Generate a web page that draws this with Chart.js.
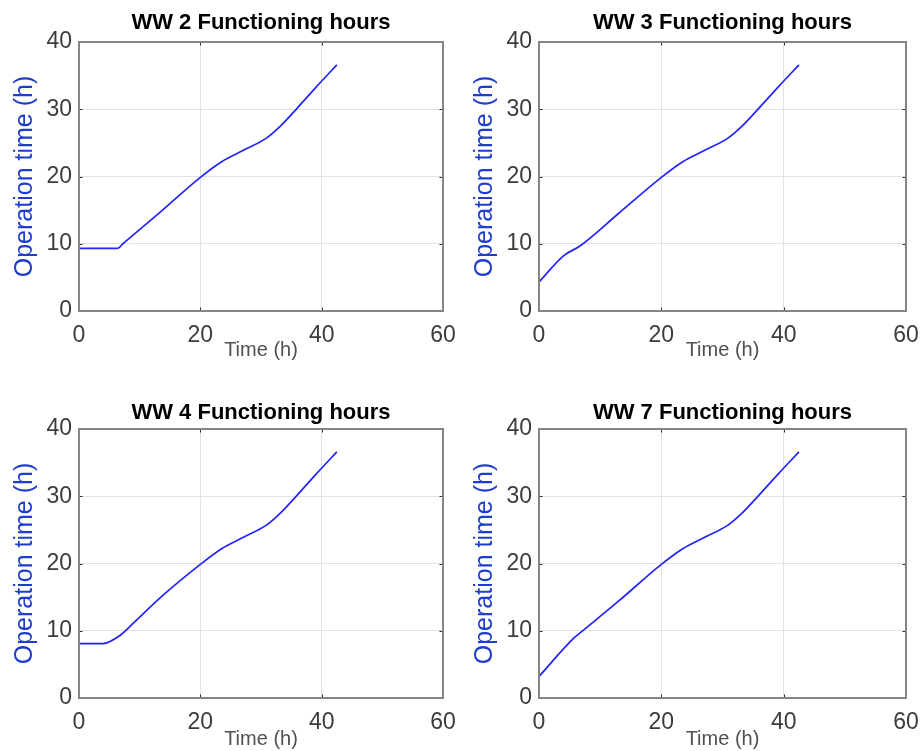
<!DOCTYPE html>
<html>
<head>
<meta charset="utf-8">
<script src="https://cdn.jsdelivr.net/npm/chart.js@4/dist/chart.umd.min.js"></script>
<style>
  html, body { margin:0; padding:0; background:#fff; width:921px; height:751px; overflow:hidden; }
  .panel { position:absolute; }
</style>
</head>
<body>
<div class="panel" style="left:0px;top:0px;"><canvas id="c1" width="460" height="375"></canvas></div>
<div class="panel" style="left:460px;top:0px;"><canvas id="c2" width="461" height="375"></canvas></div>
<div class="panel" style="left:0px;top:387px;"><canvas id="c3" width="460" height="375"></canvas></div>
<div class="panel" style="left:460px;top:387px;"><canvas id="c4" width="461" height="375"></canvas></div>
<script>
// ---- data ----
const titles = ["WW 2 Functioning hours", "WW 3 Functioning hours", "WW 4 Functioning hours", "WW 7 Functioning hours"];
const xAxisLabel = "Time (h)";
const yAxisLabel = "Operation time (h)";
const xTicks = [0, 20, 40, 60];
const yTicks = [0, 10, 20, 30, 40];

const ww2Time = [0, 6.3, 7.3, 13, 19.9, 23.5, 27.1, 30.9, 33.1, 35.9, 39.2, 42.5];
const ww2Oper = [9.3, 9.3, 10.05, 14.4, 19.8, 22.2, 23.9, 25.7, 27.4, 30.1, 33.4, 36.6];

const ww3Time = [0, 4.0, 6.75, 13, 19.9, 23.5, 27.1, 30.9, 33.1, 35.9, 39.2, 42.5];
const ww3Oper = [4.3, 8.2, 9.7, 14.5, 19.8, 22.2, 23.9, 25.7, 27.4, 30.1, 33.4, 36.6];

const ww4Time = [0, 4.0, 6.75, 8.9, 14, 19.9, 23.5, 27.1, 30.9, 33.1, 35.9, 39.2, 42.5];
const ww4Oper = [8.1, 8.1, 9.3, 11.1, 15.4, 19.8, 22.2, 23.9, 25.7, 27.4, 30.1, 33.4, 36.6];

const ww7Time = [0, 5.8, 6.8, 13, 19.9, 23.5, 27.1, 30.9, 33.1, 35.9, 39.2, 42.5];
const ww7Oper = [3.2, 9.0, 9.75, 14.4, 19.8, 22.2, 23.9, 25.7, 27.4, 30.1, 33.4, 36.6];

const seriesTime = [ww2Time, ww3Time, ww4Time, ww7Time];
const seriesOper = [ww2Oper, ww3Oper, ww4Oper, ww7Oper];

// ---- layout per panel ----
const panels = [
  { id: "c1", right: 17, titlePad: { top: 10, bottom: 5.6 }, xTitlePad: 13 },
  { id: "c2", right: 15, titlePad: { top: 10, bottom: 5.6 }, xTitlePad: 13 },
  { id: "c3", right: 17, titlePad: { top: 13, bottom: 2.6 }, xTitlePad: 11 },
  { id: "c4", right: 15, titlePad: { top: 13, bottom: 2.6 }, xTitlePad: 11 }
];

const FONT = "'Liberation Sans', Arial, Helvetica, sans-serif";

const boxPlugin = {
  id: 'matlabBox',
  afterDatasetsDraw(chart) {
    const { ctx, chartArea: a, scales } = chart;
    ctx.save();
    ctx.strokeStyle = '#2a2a2a';
    ctx.lineWidth = 1;
    const tl = 3.5;
    xTicks.forEach(v => {
      const px = Math.round(scales.x.getPixelForValue(v)) + 0.5;
      ctx.beginPath();
      ctx.moveTo(px, a.bottom); ctx.lineTo(px, a.bottom - tl);
      ctx.moveTo(px, a.top); ctx.lineTo(px, a.top + tl);
      ctx.stroke();
    });
    yTicks.forEach(v => {
      const py = Math.round(scales.y.getPixelForValue(v)) + 0.5;
      ctx.beginPath();
      ctx.moveTo(a.left, py); ctx.lineTo(a.left + tl, py);
      ctx.moveTo(a.right, py); ctx.lineTo(a.right - tl, py);
      ctx.stroke();
    });
    ctx.strokeStyle = '#858585';
    ctx.lineWidth = 2;
    ctx.strokeRect(a.left, a.top, a.right - a.left, a.bottom - a.top);
    ctx.restore();
  }
};

panels.forEach((p, i) => {
  const pts = seriesTime[i].map((t, k) => ({ x: t, y: seriesOper[i][k] }));
  new Chart(document.getElementById(p.id), {
    type: 'line',
    data: {
      datasets: [{
        data: pts,
        borderColor: 'rgb(35,35,255)',
        borderWidth: 1.7,
        pointRadius: 0,
        cubicInterpolationMode: 'monotone',
        fill: false
      }]
    },
    options: {
      responsive: false,
      animation: false,
      layout: { padding: { left: 0, right: p.right, top: 0, bottom: 0 } },
      plugins: {
        legend: { display: false },
        tooltip: { enabled: false },
        title: {
          display: true,
          text: titles[i],
          fullSize: false,
          color: '#000',
          font: { family: FONT, size: 22, weight: 'bold', lineHeight: 1.2 },
          padding: p.titlePad
        }
      },
      scales: {
        x: {
          type: 'linear',
          min: 0, max: 60,
          afterBuildTicks: s => { s.ticks = xTicks.map(v => ({ value: v })); },
          afterFit: s => { s.height = 64; s.paddingLeft = 0; s.paddingRight = 0; },
          grid: { color: '#e2e2e2', lineWidth: 1, drawTicks: false },
          border: { display: false },
          ticks: { color: '#3c3c3c', padding: 11, maxRotation: 0, font: { family: FONT, size: 23 } },
          title: {
            display: true, text: xAxisLabel, color: '#505050',
            font: { family: FONT, size: 20, lineHeight: 1.2 },
            padding: { top: 0, bottom: p.xTitlePad }
          }
        },
        y: {
          type: 'linear',
          min: 0, max: 40,
          afterBuildTicks: s => { s.ticks = yTicks.map(v => ({ value: v })); },
          afterFit: s => { s.width = 79; s.paddingTop = 0; s.paddingBottom = 0; },
          grid: { color: '#e2e2e2', lineWidth: 1, drawTicks: false },
          border: { display: false },
          ticks: { color: '#3c3c3c', padding: 7, font: { family: FONT, size: 23 } },
          title: {
            display: true, text: yAxisLabel, color: 'rgb(30,60,205)',
            font: { family: FONT, size: 25, lineHeight: 1.2 },
            padding: { top: 10, bottom: 0 }
          }
        }
      }
    },
    plugins: [boxPlugin]
  });
});
</script>
</body>
</html>
